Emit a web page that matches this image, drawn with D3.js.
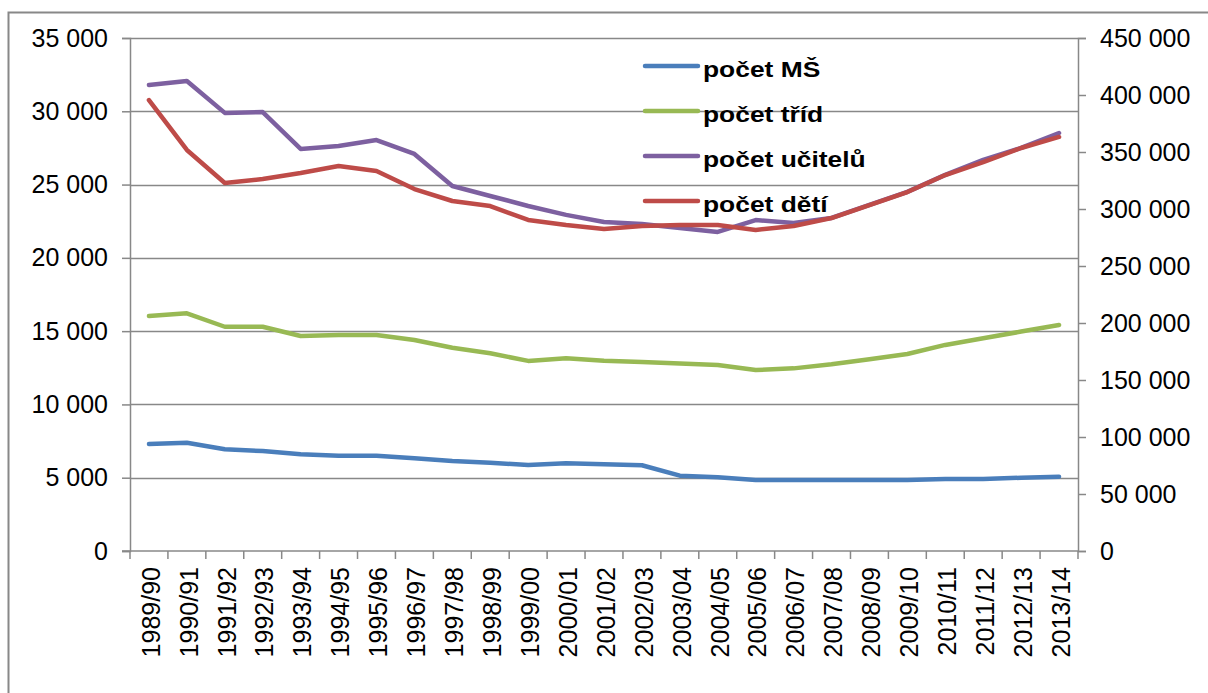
<!DOCTYPE html>
<html>
  <head>
    <title>MŠ</title>
    <meta charset="utf-8" />
    <script src="https://d3js.org/d3.v7.min.js"></script>
    <style>
      body {
        margin: 0;
        background: #fff;
      }
      text {
        font-family: "Liberation Sans", Arial, sans-serif;
      }
    </style>
  </head>

  <body>
    <script>
      // school years
      const years = [
        "1989/90", "1990/91", "1991/92", "1992/93", "1993/94", "1994/95",
        "1995/96", "1996/97", "1997/98", "1998/99", "1999/00", "2000/01",
        "2001/02", "2002/03", "2003/04", "2004/05", "2005/06", "2006/07",
        "2007/08", "2008/09", "2009/10", "2010/11", "2011/12", "2012/13",
        "2013/14",
      ];

      // left axis
      const pocetMS = [
        7300, 7390, 6940, 6820, 6600, 6500, 6500, 6320, 6140, 6020, 5870, 5980,
        5920, 5850, 5140, 5030, 4840, 4840, 4840, 4840, 4840, 4910, 4910, 5000,
        5070,
      ];
      const pocetTrid = [
        16030, 16220, 15300, 15300, 14670, 14740, 14740, 14400, 13870, 13490,
        12970, 13150, 12980, 12900, 12800, 12690, 12350, 12460, 12740, 13080,
        13440, 14060, 14510, 14970, 15420,
      ];
      const pocetUcitelu = [
        31800, 32070, 29890, 29950, 27430, 27630, 28040, 27090, 24900, 24220,
        23540, 22930, 22450, 22310, 22040, 21770, 22580, 22380, 22720, 23610,
        24500, 25660, 26680, 27500, 28520,
      ];
      // right axis
      const pocetDeti = [
        395600, 351800, 322800, 326300, 331600, 337700, 333300, 317500, 307000,
        302600, 290400, 286000, 282500, 285100, 286000, 286000, 281600, 285100,
        292100, 303500, 314900, 329800, 341200, 353500, 363200,
      ];

      const leftTicks = [0, 5000, 10000, 15000, 20000, 25000, 30000, 35000];
      const rightTicks = [
        0, 50000, 100000, 150000, 200000, 250000, 300000, 350000, 400000, 450000,
      ];

      const series = [
        { name: "počet MŠ", values: pocetMS, color: "#4a7ebb", axis: "left" },
        { name: "počet tříd", values: pocetTrid, color: "#98b954", axis: "left" },
        { name: "počet učitelů", values: pocetUcitelu, color: "#7d60a0", axis: "left" },
        { name: "počet dětí", values: pocetDeti, color: "#be4b48", axis: "right" },
      ];

      const width = 1208;
      const height = 693;
      const plot = { left: 130, right: 1078, top: 38, bottom: 551 };
      const axisColor = "#888888";

      const svg = d3
        .select("body")
        .append("svg")
        .attr("width", width)
        .attr("height", height);

      // chart border (runs past the window on the right and bottom)
      svg
        .append("rect")
        .attr("x", 8.5)
        .attr("y", 12.5)
        .attr("width", 1400)
        .attr("height", 900)
        .attr("fill", "none")
        .attr("stroke", axisColor)
        .attr("stroke-width", 2);

      const x = d3
        .scaleBand()
        .domain(years)
        .range([plot.left, plot.right]);

      const yL = d3
        .scaleLinear()
        .domain([0, 35000])
        .range([plot.bottom, plot.top]);

      const yR = d3
        .scaleLinear()
        .domain([0, 450000])
        .range([plot.bottom, plot.top]);

      const fmt = (v) => d3.format(",")(v).replace(/,/g, " ");

      // gridlines
      svg
        .append("g")
        .selectAll("line")
        .data(leftTicks.slice(1))
        .enter()
        .append("line")
        .attr("x1", plot.left)
        .attr("x2", plot.right)
        .attr("y1", (d) => Math.round(yL(d)) + 0.5)
        .attr("y2", (d) => Math.round(yL(d)) + 0.5)
        .attr("stroke", axisColor)
        .attr("stroke-width", 1.5);

      // left axis
      const leftAxis = svg
        .append("g")
        .attr("transform", `translate(${plot.left},0)`)
        .call(
          d3.axisLeft(yL).tickValues(leftTicks).tickSize(8).tickPadding(14).tickFormat(fmt)
        );

      // right axis
      const rightAxis = svg
        .append("g")
        .attr("transform", `translate(${plot.right},0)`)
        .call(
          d3.axisRight(yR).tickValues(rightTicks).tickSize(8).tickPadding(14).tickFormat(fmt)
        );

      // bottom axis: ticks between categories
      const bottom = svg
        .append("g")
        .attr("transform", `translate(0,${plot.bottom})`);
      bottom
        .append("line")
        .attr("x1", plot.left - 8)
        .attr("x2", plot.right)
        .attr("stroke", axisColor)
        .attr("stroke-width", 1.5);
      bottom
        .selectAll(".tick")
        .data(years.map((d) => x(d)).concat([plot.right]))
        .enter()
        .append("line")
        .attr("x1", (d) => d)
        .attr("x2", (d) => d)
        .attr("y1", 0)
        .attr("y2", 8)
        .attr("stroke", axisColor)
        .attr("stroke-width", 1.5);
      bottom
        .selectAll("text")
        .data(years)
        .enter()
        .append("text")
        .attr(
          "transform",
          (d) => `translate(${x(d) + x.bandwidth() / 2 + 2},16) rotate(-90)`
        )
        .attr("text-anchor", "end")
        .attr("dy", "0.35em")
        .attr("font-size", "25px")
        .attr("fill", "#000")
        .text((d) => d);

      [leftAxis, rightAxis].forEach((g) => {
        g.select(".domain").attr("stroke", axisColor).attr("stroke-width", 1.5);
        g.selectAll(".tick line").attr("stroke", axisColor).attr("stroke-width", 1.5);
        g.selectAll(".tick text")
          .attr("font-size", "25px")
          .attr("font-family", "Liberation Sans, Arial, sans-serif")
          .attr("fill", "#000");
      });

      // lines
      series.forEach((s) => {
        const y = s.axis === "left" ? yL : yR;
        const line = d3
          .line()
          .x((d, i) => x(years[i]) + x.bandwidth() / 2)
          .y((d) => y(d));
        svg
          .append("path")
          .datum(s.values)
          .attr("d", line)
          .attr("fill", "none")
          .attr("stroke", s.color)
          .attr("stroke-width", 4.5)
          .attr("stroke-linejoin", "round")
          .attr("stroke-linecap", "round");
      });

      // legend
      const legend = svg
        .append("g")
        .selectAll("g")
        .data(series)
        .enter()
        .append("g")
        .attr("transform", (d, i) => `translate(645,${66 + i * 45})`);
      legend
        .append("line")
        .attr("x1", 0)
        .attr("x2", 53)
        .attr("stroke", (d) => d.color)
        .attr("stroke-width", 4.5)
        .attr("stroke-linecap", "round");
      legend
        .append("text")
        .attr("transform", "translate(58,11) scale(1.2,1)")
        .attr("font-size", "22px")
        .attr("font-weight", "bold")
        .attr("fill", "#000")
        .text((d) => d.name);
    </script>
  </body>
</html>
